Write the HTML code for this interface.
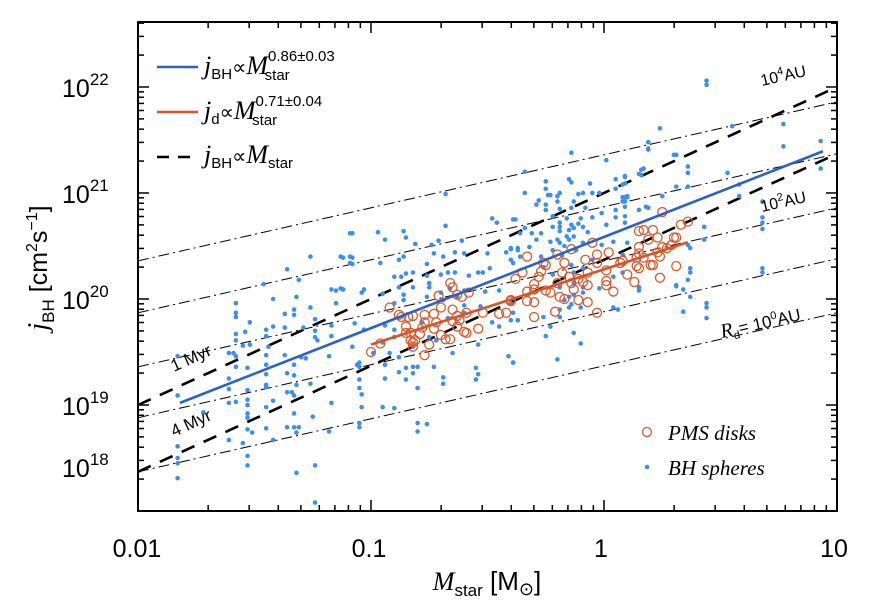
<!DOCTYPE html>
<html><head><meta charset="utf-8"><style>
html,body{margin:0;padding:0;background:#fff;}
svg{display:block;}
.tk{font-family:"Liberation Sans",sans-serif;font-size:25px;fill:#000;}
.it{font-family:"Liberation Serif",serif;font-style:italic;}
.sf{font-family:"Liberation Sans",sans-serif;}
</style></head><body>
<svg id="chart" width="876" height="608" viewBox="0 0 876 608" xmlns="http://www.w3.org/2000/svg">
<defs><clipPath id="plotclip"><rect x="138" y="22" width="699" height="489"/></clipPath></defs>
<rect x="138" y="22" width="699" height="489" fill="none" stroke="#000" stroke-width="2"/>
<g id="ticks"></g>
<g id="guides" clip-path="url(#plotclip)"></g>
<g id="marks" clip-path="url(#plotclip)"></g>
<g id="fits" clip-path="url(#plotclip)"></g>

<g>
<text class="tk" x="62" y="97">10<tspan font-size="17" dy="-12">22</tspan></text>
<text class="tk" x="62" y="203">10<tspan font-size="17" dy="-12">21</tspan></text>
<text class="tk" x="62" y="309">10<tspan font-size="17" dy="-12">20</tspan></text>
<text class="tk" x="62" y="415">10<tspan font-size="17" dy="-12">19</tspan></text>
<text class="tk" x="62" y="477">10<tspan font-size="17" dy="-12">18</tspan></text>
</g>
<g>
<text class="tk" x="137" y="557" text-anchor="middle">0.01</text>
<text class="tk" x="369" y="557" text-anchor="middle">0.1</text>
<text class="tk" x="601" y="557" text-anchor="middle">1</text>
<text class="tk" x="834" y="557" text-anchor="middle">10</text>
</g>
<text x="487" y="590" text-anchor="middle" font-size="26"><tspan class="it">M</tspan><tspan class="sf" font-size="17" dy="6">star</tspan><tspan class="sf" dy="-6" font-size="26"> [M</tspan><tspan class="sf" font-size="18" dy="5">⊙</tspan><tspan class="sf" dy="-5" font-size="26">]</tspan></text>
<text transform="translate(47,268) rotate(-90)" text-anchor="middle" font-size="28"><tspan class="it">j</tspan><tspan class="sf" font-size="17" dy="7">BH</tspan><tspan class="sf" dy="-7" font-size="25"> [cm</tspan><tspan class="sf" font-size="16" dy="-10">2</tspan><tspan class="sf" font-size="25" dy="10">s</tspan><tspan class="sf" font-size="16" dy="-10">−1</tspan><tspan class="sf" font-size="25" dy="10">]</tspan></text>

<text class="sf" font-size="16" transform="translate(762,86) rotate(-12.8)">10<tspan font-size="11" dy="-7">4</tspan><tspan dy="7">AU</tspan></text>
<text class="sf" font-size="16" transform="translate(762,212) rotate(-12.8)">10<tspan font-size="11" dy="-7">2</tspan><tspan dy="7">AU</tspan></text>
<text font-size="17" transform="translate(722,338) rotate(-12.8)"><tspan class="it" font-size="20">R</tspan><tspan class="sf" font-size="11" dy="4">d</tspan><tspan class="sf" dy="-4">= 10</tspan><tspan class="sf" font-size="11" dy="-7">0</tspan><tspan class="sf" dy="7">AU</tspan></text>
<text class="sf" font-size="17" transform="translate(174,372) rotate(-24.5)">1 Myr</text>
<text class="sf" font-size="17" transform="translate(174,437) rotate(-24.5)">4 Myr</text>

<g>
<line x1="157" y1="67" x2="198" y2="67" stroke="#2a62c9" stroke-width="2.5"/>
<text x="204" y="74" font-size="26"><tspan class="it">j</tspan><tspan class="sf" font-size="15" dy="5">BH</tspan><tspan class="sf" dy="-5" font-size="20">∝</tspan><tspan class="it">M</tspan><tspan class="sf" font-size="15" dy="-13">0.86±0.03</tspan><tspan class="sf" font-size="15" dx="-70" dy="19">star</tspan></text>
<line x1="157" y1="112" x2="198" y2="112" stroke="#d9522a" stroke-width="2.5"/>
<text x="204" y="119" font-size="26"><tspan class="it">j</tspan><tspan class="sf" font-size="15" dy="5">d</tspan><tspan class="sf" dy="-5" font-size="20">∝</tspan><tspan class="it">M</tspan><tspan class="sf" font-size="15" dy="-13">0.71±0.04</tspan><tspan class="sf" font-size="15" dx="-70" dy="19">star</tspan></text>
<line x1="157" y1="157" x2="198" y2="157" stroke="#000" stroke-width="2.5" stroke-dasharray="12,9"/>
<text x="204" y="163" font-size="26"><tspan class="it">j</tspan><tspan class="sf" font-size="15" dy="5">BH</tspan><tspan class="sf" dy="-5" font-size="20">∝</tspan><tspan class="it">M</tspan><tspan class="sf" font-size="15" dy="5">star</tspan></text>
</g>
<g>
<circle cx="647" cy="432" r="4.5" fill="none" stroke="#e0572a" stroke-width="1.3"/>
<text class="it" x="668" y="440" font-size="21">PMS disks</text>
<circle cx="647" cy="467" r="2.3" fill="#3d8eed"/>
<text class="it" x="668" y="475" font-size="21">BH spheres</text>
</g>
</svg>
<script>
const xTicksMajor = [-2, -1, 0, 1];
const yTicksMajor = [18, 19, 20, 21, 22];
const keplerIntercepts = [20.36, 19.87, 19.36, 18.88, 18.37];
const keplerSlope = [0.5];
const ageIntercepts = [19.0, 18.37];
const ageSlope = [1.0];
const blueFit = [-1.82, 0.94, 19.02, 0.86];
const redFit = [-1.0, 0.36, 19.57, 0.71];
const bhSpheres = [
[-0.68,20.99],[-1.08,20.62],[-0.97,20.63],[-0.94,20.56],[-0.86,20.64],[-0.85,20.58],[-0.68,20.69],[-0.48,20.76],[-0.46,20.72],[-0.39,20.75],
[-0.81,20.52],[-0.74,20.51],[-0.71,20.55],[-0.61,20.55],[-1.12,20.39],[-1.08,20.39],[-1.08,20.33],[-0.96,20.34],[-0.88,20.37],[-0.86,20.40],
[-0.76,20.33],[-0.73,20.43],[-0.69,20.40],[-0.64,20.44],[-0.60,20.43],[-0.50,20.43],[-0.42,20.44],[-0.40,20.47],[-0.37,20.48],[-0.90,20.21],
[-0.87,20.21],[-0.85,20.24],[-0.82,20.25],[-0.76,20.22],[-0.75,20.15],[-0.70,20.23],[-0.67,20.25],[-0.64,20.25],[-0.58,20.22],[-0.54,20.25],
[-0.52,20.25],[-0.49,20.29],[-1.12,20.09],[-1.03,20.09],[-1.04,20.06],[-0.95,20.05],[-0.88,20.11],[-0.86,20.04],[-0.82,20.11],[-0.75,20.11],
[-0.70,20.06],[-0.66,20.10],[-0.60,20.08],[-0.51,20.07],[-0.45,20.08],[-0.90,19.96],[-0.86,19.99],[-0.76,20.02],[-0.69,19.99],[-0.63,20.02],
[-0.60,19.94],[-0.53,19.93],[-0.40,19.96],[-1.07,19.77],[-1.03,19.71],[-0.94,19.75],[-0.90,19.71],[-0.78,19.78],[-0.67,19.82],[-0.60,19.87],
[-0.48,19.78],[-0.45,19.74],[-0.37,19.80],[-1.08,19.55],[-0.95,19.59],[-0.90,19.64],[-0.82,19.55],[-0.75,19.64],[-0.72,19.61],[-0.54,19.57],
[-0.99,19.49],[-0.92,19.49],[-0.88,19.45],[-0.65,19.49],[-0.41,19.46],[-1.05,19.40],[-1.05,19.36],[-0.94,19.38],[-0.85,19.35],[-0.82,19.36],
[-0.80,19.36],[-0.73,19.36],[-0.39,19.40],[-0.88,19.31],[-0.82,19.30],[-0.55,19.35],[-0.54,19.29],[-0.55,19.24],[-0.69,19.26],[-0.69,19.20],
[-1.05,19.24],[-0.94,19.25],[-0.85,19.24],[-0.80,19.16],[-1.05,19.16],[-1.04,19.10],[-1.04,18.98],[-0.95,18.98],[-0.90,18.97],[-1.05,18.83],
[-1.05,18.79],[-0.80,18.83],[-0.76,18.82],[-0.80,18.75],
[-0.14,21.38],[0.01,21.31],[0.19,21.48],[0.19,21.42],[0.31,21.36],[-0.34,21.20],[-0.25,21.11],[-0.15,21.13],[-0.14,21.10],[-0.06,21.09],
[0.05,21.13],[0.09,21.15],[0.16,21.22],[0.15,21.18],[-0.25,21.04],[-0.34,21.00],[-0.24,20.98],[-0.23,20.98],[-0.20,20.97],[-0.19,21.00],
[-0.11,20.99],[-0.09,21.00],[-0.05,21.00],[-0.02,21.00],[0.05,21.04],[0.08,21.08],[0.09,20.96],[0.10,20.96],[-0.28,20.93],[-0.25,20.89],
[-0.20,20.92],[-0.13,20.92],[0.08,20.92],[-0.29,20.89],[-0.25,20.84],[-0.19,20.85],[-0.14,20.86],[-0.08,20.86],[-0.01,20.81],[0.05,20.84],
[0.15,20.84],[0.18,20.87],[-0.38,20.75],[-0.22,20.78],[-0.19,20.72],[-0.16,20.76],[-0.10,20.76],[-0.05,20.77],[0.05,20.77],[0.09,20.72],
[-0.34,20.67],[-0.22,20.68],[-0.19,20.68],[-0.14,20.70],[-0.11,20.71],[-0.15,20.65],[-0.13,20.67],[-0.09,20.68],[0.01,20.70],[-0.36,20.62],
[-0.31,20.62],[-0.27,20.62],[-0.19,20.64],[-0.16,20.59],[-0.13,20.59],[-0.15,20.56],[-0.07,20.63],[-0.20,20.56],[-0.19,20.53],[-0.17,20.50],
[-0.23,20.54],[-0.29,20.56],[-0.09,20.53],[-0.01,20.51],[0.04,20.54],[0.10,20.53],[-0.40,20.48],[-0.37,20.46],[-0.32,20.49],[-0.22,20.46],
[-0.12,20.46],[0.08,20.42],[-0.40,20.37],[-0.36,20.40],[-0.27,20.40],[-0.18,20.41],[-0.05,20.37],[-0.39,20.34],[-0.26,20.30],[-0.14,20.32],
[-0.09,20.29],[-0.22,20.23],[-0.13,20.25],[0.04,20.21],[0.08,20.25],[-0.19,20.11],[-0.13,20.15],[-0.09,20.11],[-0.13,20.04],[-0.09,20.06],
[-0.02,20.10],[0.15,20.11],[0.31,20.13],[0.36,20.18],[-0.15,20.02],[-0.17,19.99],[-0.14,19.95],[-0.19,19.90],[-0.15,19.92],[-0.10,19.92],
[0.04,19.92],[0.06,19.90],[-0.39,19.87],[-0.26,19.83],[-0.19,19.83],[-0.40,19.80],[-0.37,19.80],[-0.23,19.74],[-0.25,19.65],[-0.13,19.68],
[-0.10,19.58],[0.34,19.88],[-0.39,19.40],[-0.20,19.43],[0.36,20.51],
[-1.09,20.62],[-1.26,20.40],[-1.13,20.40],[-1.09,20.40],[-1.09,20.34],[-1.36,20.28],[-1.31,20.18],[-1.46,20.14],[-1.42,20.00],[-1.58,19.96],
[-1.58,19.87],[-1.58,19.83],[-1.52,19.78],[-1.37,19.86],[-1.33,19.90],[-1.33,19.85],[-1.32,20.02],[-1.26,19.92],[-1.24,19.81],[-1.17,20.09],
[-1.15,20.08],[-1.12,20.09],[-1.15,19.96],[-1.13,20.10],[-1.17,19.75],[-1.17,19.65],[-1.58,19.67],[-1.58,19.61],[-1.45,19.71],[-1.45,19.65],
[-1.54,19.69],[-1.42,19.74],[-1.37,19.73],[-1.29,19.73],[-1.24,19.70],[-1.24,19.64],[-1.23,19.61],[-1.55,19.56],[-1.44,19.55],[-1.61,19.49],
[-1.59,19.49],[-1.58,19.46],[-1.52,19.57],[-1.45,19.47],[-1.37,19.47],[-1.33,19.38],[-1.30,19.45],[-1.28,19.44],[-1.18,19.46],[-1.83,19.46],
[-1.53,19.35],[-1.45,19.38],[-1.45,19.29],[-1.45,19.19],[-1.45,19.17],[-1.61,19.25],[-1.61,19.15],[-1.58,19.36],[-1.36,19.30],[-1.33,19.28],
[-1.32,19.19],[-1.34,19.12],[-1.36,19.12],[-1.33,19.09],[-1.26,19.20],[-1.06,19.38],[-1.83,19.09],[-1.61,19.02],[-1.58,19.03],[-1.53,19.14],
[-1.53,19.05],[-1.53,19.00],[-1.53,18.92],[-1.53,18.88],[-1.42,19.04],[-1.45,18.98],[-1.33,18.92],[-1.25,18.89],[-1.17,19.02],[-1.72,18.93],
[-1.53,18.77],[-1.51,18.74],[-1.45,18.78],[-1.36,18.79],[-1.33,18.79],[-1.31,18.79],[-1.32,18.74],[-1.18,18.75],[-1.61,18.67],[-1.55,18.64],
[-1.42,18.67],[-1.83,18.61],[-1.83,18.50],[-1.83,18.45],[-1.83,18.31],[-1.53,18.52],[-1.53,18.43],[-1.32,18.36],[-1.24,18.43],[-1.24,18.08],
[0.44,22.06],[0.44,22.02],[0.77,21.65],[0.55,21.63],[0.24,21.61],[0.19,21.41],[0.93,21.49],[0.77,21.44],[0.30,21.36],[0.36,21.25],
[0.36,21.19],[0.53,21.19],[0.09,21.16],[0.17,21.23],[0.16,21.17],[0.09,21.09],[0.31,21.06],[0.36,21.06],[0.58,21.08],[0.25,20.97],
[0.08,20.96],[0.10,20.97],[0.58,20.97],[0.93,21.23],[0.19,20.86],[0.09,20.92],[0.09,20.87],[0.09,20.78],[0.43,20.68],[0.68,20.92],
[0.68,20.77],[0.68,20.72],[0.68,20.66],[0.43,20.56],[0.37,20.48],[0.68,20.29],[0.68,20.25],[0.37,20.29],[0.37,20.25],[0.31,20.12],
[0.34,20.09],[0.37,20.02],[0.44,19.96],[0.44,19.92],[0.44,19.82],[0.15,20.11],[0.15,20.08]
];
const pmsDisks = [
[-0.66,20.15],[-0.65,20.11],[-0.71,20.03],[-0.63,20.04],[-0.61,20.02],[-0.58,20.06],[-0.92,19.92],[-0.70,19.92],[-0.88,19.85],[-0.87,19.83],
[-0.84,19.83],[-0.82,19.84],[-0.77,19.85],[-0.73,19.86],[-0.65,19.90],[-0.63,19.84],[-0.59,19.87],[-0.77,19.78],[-0.72,19.78],[-0.65,19.79],
[-0.62,19.80],[-0.85,19.74],[-0.78,19.73],[-0.73,19.72],[-0.63,19.74],[-0.60,19.69],[-0.59,19.68],[-0.54,19.72],[-0.85,19.68],[-0.83,19.68],
[-0.79,19.67],[-0.70,19.66],[-0.68,19.62],[-0.66,19.62],[-0.83,19.61],[-0.82,19.59],[-0.81,19.61],[-0.75,19.57],[-0.82,19.55],[-0.96,19.58],
[-1.00,19.50],[-0.77,19.47],[-0.52,19.87],[-0.45,19.86],[-0.42,19.87],[-0.40,19.98],[-0.38,20.19],
[0.25,20.82],[0.36,20.73],[0.33,20.70],[0.15,20.64],[0.17,20.65],[0.21,20.65],[0.23,20.58],[0.19,20.56],[0.15,20.49],[0.15,20.43],
[0.14,20.39],[0.17,20.39],[0.25,20.49],[0.27,20.48],[0.30,20.58],[0.31,20.58],[0.29,20.51],[0.23,20.44],[0.24,20.40],[-0.05,20.53],
[0.02,20.44],[-0.03,20.42],[-0.14,20.47],[-0.20,20.42],[-0.33,20.40],[-0.26,20.34],[-0.25,20.32],[-0.08,20.37],[-0.03,20.34],[0.08,20.36],
[0.07,20.34],[0.14,20.31],[0.15,20.29],[0.20,20.32],[0.21,20.32],[0.31,20.31],[-0.17,20.34],[-0.18,20.25],[-0.27,20.26],[-0.35,20.25],
[-0.28,20.21],[-0.15,20.21],[-0.11,20.19],[-0.07,20.25],[0.01,20.27],[0.10,20.23],[0.24,20.20],[-0.30,20.14],[-0.20,20.15],[-0.14,20.15],
[-0.09,20.16],[-0.07,20.13],[0.01,20.17],[0.01,20.13],[0.13,20.16],[-0.30,20.09],[-0.25,20.08],[-0.23,20.06],[-0.13,20.09],[0.04,20.07],
[-0.33,20.07],[-0.40,19.99],[-0.33,19.98],[-0.30,19.97],[-0.19,20.02],[-0.17,20.00],[-0.11,19.99],[-0.07,19.97],[-0.30,19.83],[-0.21,19.88],
[-0.03,19.87]
];

const NS = 'http://www.w3.org/2000/svg';
const X0 = 138, X1 = 837, Y0 = 22, Y1 = 511;
function xS(v){ return X0 + (v + 2) * (X1 - X0) / 3; }
function yS(v){ return Y1 - (v - 18) * (Y1 - Y0) / 4.613; }
function mk(tag, attrs, parent){
  const e = document.createElementNS(NS, tag);
  for (const k in attrs) e.setAttribute(k, attrs[k]);
  parent.appendChild(e);
  return e;
}
const gT = document.getElementById('ticks');
const gG = document.getElementById('guides');
const gM = document.getElementById('marks');
const gF = document.getElementById('fits');

xTicksMajor.forEach(function(d){
  for (let m = 1; m <= 9; m++){
    const v = d + Math.log10(m);
    if (v > 1.0001) continue;
    const x = xS(v), len = (m === 1) ? 11 : 6;
    const t1 = mk('line', {x1:x, y1:Y1, x2:x, y2:Y1-len, stroke:'#000', 'stroke-width':1.5}, gT);
    
    
    const t2 = mk('line', {x1:x, y1:Y0, x2:x, y2:Y0+len, stroke:'#000', 'stroke-width':1.5}, gT);
    
    
  }
});
yTicksMajor.forEach(function(d){
  for (let m = 1; m <= 9; m++){
    const v = d + Math.log10(m);
    if (v > 22.613) continue;
    const y = yS(v), len = (m === 1) ? 11 : 6;
    const t1 = mk('line', {x1:X0, y1:y, x2:X0+len, y2:y, stroke:'#000', 'stroke-width':1.5}, gT);
    
    
    const t2 = mk('line', {x1:X1, y1:y, x2:X1-len, y2:y, stroke:'#000', 'stroke-width':1.5}, gT);
    
    
  }
});
keplerIntercepts.forEach(function(b){
  const l = mk('line', {x1:xS(-2), y1:yS(b), x2:xS(1), y2:yS(b + keplerSlope[0]*3), stroke:'#000', 'stroke-width':1, 'stroke-dasharray':'11,4,2,4'}, gG);
  
  
});
ageIntercepts.forEach(function(b){
  const l = mk('line', {x1:xS(-2), y1:yS(b), x2:xS(0.98), y2:yS(b + ageSlope[0]*2.98), stroke:'#000', 'stroke-width':2.6, 'stroke-dasharray':'14,10'}, gG);
  
  
});
bhSpheres.forEach(function(p){
  const c = mk('circle', {cx:xS(p[0]), cy:yS(p[1]), r:2.3, fill:'#3d8eed'}, gM);
  
  
});
pmsDisks.forEach(function(p){
  const c = mk('circle', {cx:xS(p[0]), cy:yS(p[1]), r:4.5, fill:'none', stroke:'#e0572a', 'stroke-width':1.3}, gM);
  
  
});
function fitLine(f, color, name){
  const l = mk('line', {x1:xS(f[0]), y1:yS(f[2]), x2:xS(f[1]), y2:yS(f[2] + f[3]*(f[1]-f[0])), stroke:color, 'stroke-width':2.6}, gF);
  
  
}
fitLine(blueFit, '#2a62c9', 'bh-fit-line');
fitLine(redFit, '#d9522a', 'disk-fit-line');
</script>
</body></html>
